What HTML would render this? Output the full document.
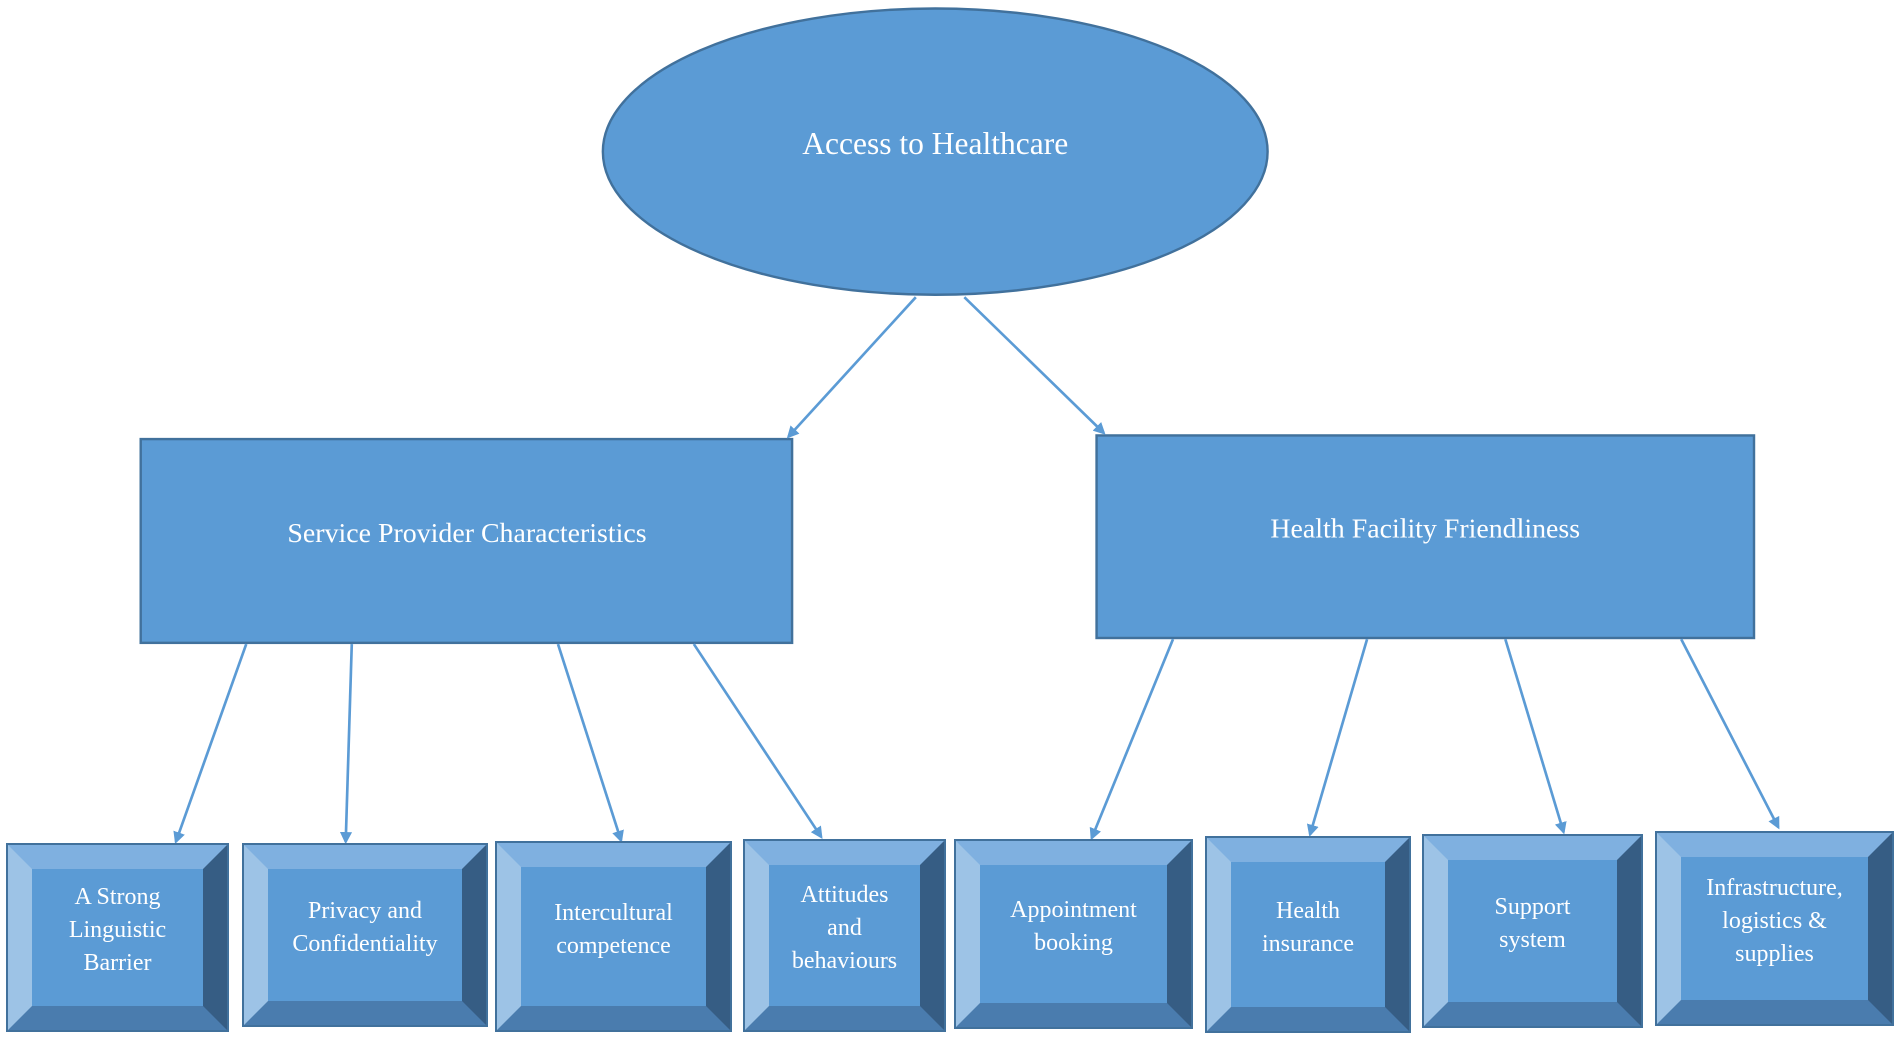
<!DOCTYPE html>
<html><head><meta charset="utf-8"><style>
html,body{margin:0;padding:0;background:#fff;}
body{width:1902px;height:1039px;position:relative;overflow:hidden;font-family:"Liberation Serif",serif;}
svg{position:absolute;left:0;top:0;}
.b{position:absolute;box-sizing:border-box;border:24px solid;border-color:#7fb0e0 #365d84 #4a7cae #9dc3e6;outline:2px solid #41719c;background:#5b9bd5;color:#fff;font-size:24px;line-height:33px;text-align:center;display:flex;align-items:center;justify-content:center;padding-bottom:14px;}
</style></head><body>
<svg width="1902" height="1039" viewBox="0 0 1568 856.6" preserveAspectRatio="none">
<defs><marker id="a" markerWidth="10" markerHeight="10" refX="8" refY="5" orient="auto" markerUnits="userSpaceOnUse"><path d="M0,0 L10,5 L0,10 z" fill="#5b9bd5"/></marker></defs>
<ellipse cx="771" cy="125" rx="274" ry="118" fill="#5b9bd5" stroke="#41719c" stroke-width="2"/>
<text x="771" y="127" font-size="26" fill="#fff" text-anchor="middle" font-family="Liberation Serif">Access to Healthcare</text>
<rect x="116" y="362" width="537" height="168" fill="#5b9bd5" stroke="#41719c" stroke-width="2"/>
<text x="385" y="447" font-size="23" fill="#fff" text-anchor="middle" font-family="Liberation Serif">Service Provider Characteristics</text>
<rect x="904" y="359" width="542" height="167" fill="#5b9bd5" stroke="#41719c" stroke-width="2"/>
<text x="1175" y="443" font-size="23" fill="#fff" text-anchor="middle" font-family="Liberation Serif">Health Facility Friendliness</text>
<g stroke="#5b9bd5" stroke-width="2.2" marker-end="url(#a)">
<line x1="755" y1="245" x2="650" y2="360"/>
<line x1="795" y1="245" x2="910" y2="357"/>
<line x1="203" y1="531" x2="145" y2="694"/>
<line x1="290" y1="531" x2="285" y2="694"/>
<line x1="460" y1="531" x2="512" y2="693"/>
<line x1="572" y1="531" x2="677" y2="690"/>
<line x1="967" y1="527" x2="900" y2="691"/>
<line x1="1127" y1="527" x2="1080" y2="688"/>
<line x1="1241" y1="527" x2="1289" y2="686"/>
<line x1="1386" y1="527" x2="1466" y2="682"/>
</g>
</svg>
<div class="b" style="left:8px;top:845px;width:219px;height:185px;">A Strong<br>Linguistic<br>Barrier</div>
<div class="b" style="left:244px;top:845px;width:242px;height:180px;">Privacy and<br>Confidentiality</div>
<div class="b" style="left:497px;top:843px;width:233px;height:187px;">Intercultural<br>competence</div>
<div class="b" style="left:745px;top:841px;width:199px;height:189px;">Attitudes<br>and<br>behaviours</div>
<div class="b" style="left:956px;top:841px;width:235px;height:186px;">Appointment<br>booking</div>
<div class="b" style="left:1207px;top:838px;width:202px;height:193px;">Health<br>insurance</div>
<div class="b" style="left:1424px;top:836px;width:217px;height:190px;">Support<br>system</div>
<div class="b" style="left:1657px;top:833px;width:235px;height:191px;">Infrastructure,<br>logistics &amp;<br>supplies</div>
</body></html>
